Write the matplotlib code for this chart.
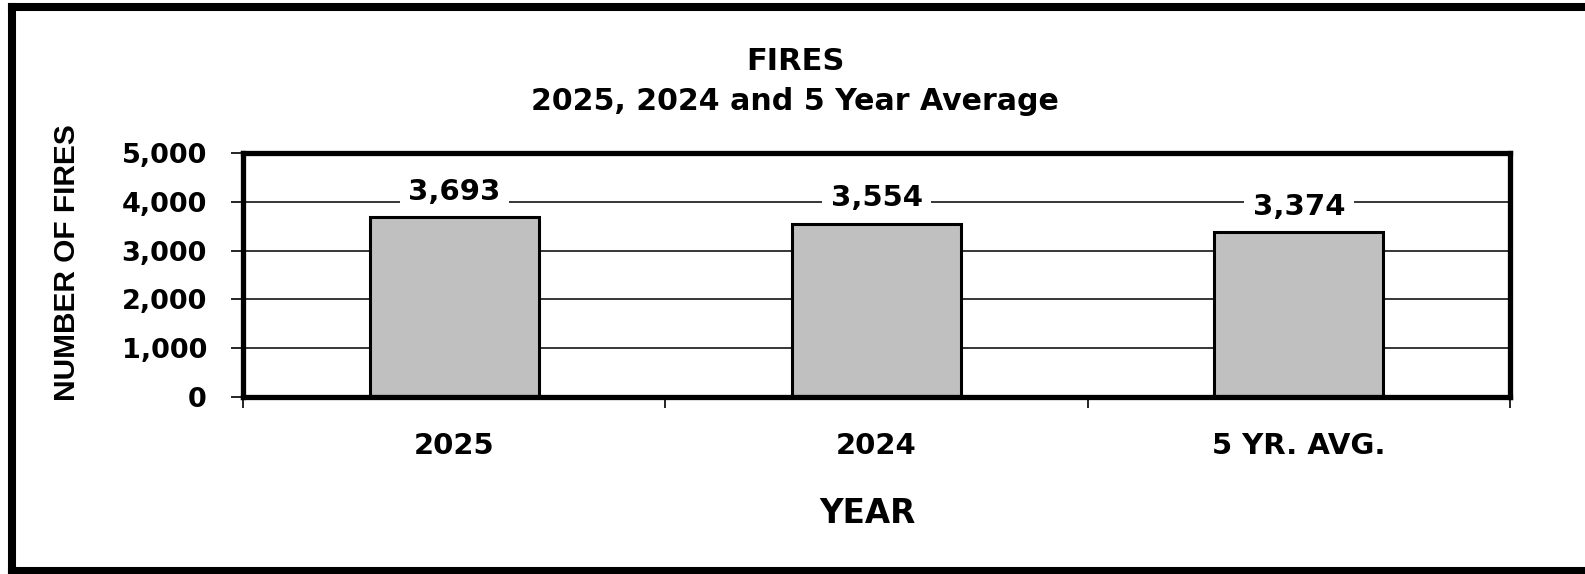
import matplotlib.pyplot as plt
from matplotlib.lines import Line2D

# chart data
categories = ['2025', '2024', '5 YR. AVG.']
fires = [3693, 3554, 3374]
yticks = [0, 1000, 2000, 3000, 4000, 5000]

# the source text is wide (stretched Arial), DejaVu Sans Bold is a close match
plt.rcParams['font.family'] = ['DejaVu Sans']
plt.rcParams['font.weight'] = 'bold'

W, H = 1585, 574
fig = plt.figure(figsize=(W / 100, H / 100), dpi=100)

# axes box in pixel coords (left, top, right, bottom)
l, t, r, b = 243, 153, 1510, 397
ax = fig.add_axes([l / W, 1 - b / H, (r - l) / W, (b - t) / H])

x = range(len(categories))
ax.bar(x, fires, width=0.4, color='#c0c0c0', edgecolor='black', linewidth=2.2, zorder=3)

ax.set_xlim(-0.5, len(categories) - 0.5)
ax.set_ylim(0, 5000)
ax.set_yticks(yticks)
ax.set_yticklabels(['{:,}'.format(v) for v in yticks], fontsize=19.5, fontweight='bold')
ax.set_xticks(list(x))
ax.set_xticklabels(categories, fontsize=21, fontweight='bold')
ax.set_xticks([i - 0.5 for i in range(len(categories) + 1)], minor=True)

ax.tick_params(axis='y', direction='out', length=9, width=1.2, pad=17)
ax.tick_params(axis='x', which='major', length=0, pad=25)
ax.tick_params(axis='x', which='minor', direction='out', length=8, width=1.2)

ax.yaxis.grid(True, color='black', linewidth=1.1, zorder=0)
ax.set_axisbelow(True)
for s in ax.spines.values():
    s.set_linewidth(3.8)
    s.set_zorder(4)

# value labels with white backing over gridlines
for i, v in enumerate(fires):
    ax.annotate('{:,}'.format(v), (i, v), xytext=(0, 8), textcoords='offset points',
                ha='center', va='bottom', fontsize=21, fontweight='bold',
                bbox=dict(facecolor='white', edgecolor='none', pad=6), zorder=5)

ax.set_ylabel('NUMBER OF FIRES', fontsize=21.5, fontweight='bold',
              family=['Liberation Sans', 'DejaVu Sans'])
ax.yaxis.set_label_coords(-0.128, 0.55)
ax.set_xlabel('YEAR', fontsize=23.5, fontweight='bold')
ax.xaxis.set_label_coords(0.4925, -0.41)

fig.text(795 / W, 1 - 61 / H, 'FIRES', ha='center', va='center', fontsize=22, fontweight='bold')
fig.text(795 / W, 1 - 101 / H, '2025, 2024 and 5 Year Average', ha='center', va='center',
         fontsize=21.6, fontweight='bold')

# outer frame (top, left, bottom; right edge runs off the image)
lw = 5.8
fig.add_artist(Line2D([12 / W, 1.01], [1 - 7 / H, 1 - 7 / H], color='black', linewidth=lw, transform=fig.transFigure))
fig.add_artist(Line2D([12 / W, 12 / W], [1 - 7 / H, 1 - 571 / H], color='black', linewidth=lw, transform=fig.transFigure))
fig.add_artist(Line2D([12 / W, 1.01], [1 - 571 / H, 1 - 571 / H], color='black', linewidth=lw, transform=fig.transFigure))

plt.savefig('out.png', dpi=100)
